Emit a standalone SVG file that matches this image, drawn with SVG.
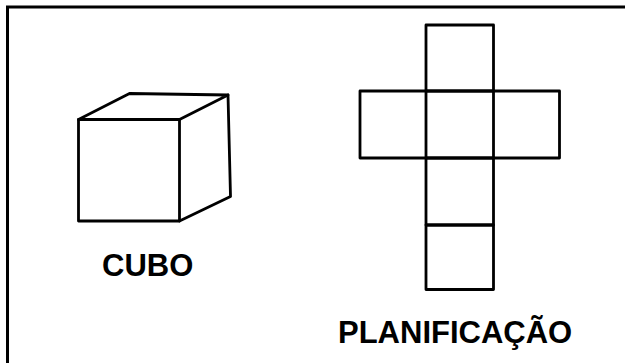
<svg xmlns="http://www.w3.org/2000/svg" width="625" height="363" viewBox="0 0 625 363">
<style>
.ln{fill:none;stroke:#000;stroke-width:2.8;stroke-linejoin:round;stroke-linecap:round}
.lbl{font-family:"Liberation Sans",Arial,sans-serif;font-weight:bold;font-size:31px;fill:#000}
</style>
<rect width="625" height="363" fill="#fff"/>
<path d="M7.5,363 V7 H625" fill="none" stroke="#000" stroke-width="3"/>
<g id="cube">
<polygon class="ln" points="78.5,119.5 179.5,119.5 179.5,221 78.5,221"/>
<polyline class="ln" points="78.5,119.5 129.5,93.5 228,95 179.5,119.5"/>
<polyline class="ln" points="228,95 230.5,196.5 179.5,221"/>
</g>
<g id="net">
<rect class="ln" x="426" y="25" width="67.5" height="66"/>
<rect class="ln" x="360" y="91" width="199.5" height="67"/>
<line class="ln" x1="426" y1="91" x2="426" y2="158"/>
<line class="ln" x1="493.5" y1="91" x2="493.5" y2="158"/>
<rect class="ln" x="426" y="158" width="67.5" height="67"/>
<rect class="ln" x="426" y="225" width="67.5" height="64.5"/>
</g>
<text class="lbl" x="102" y="275.5">CUBO</text>
<text class="lbl" x="338" y="342.5" font-size="30.5">PLANIFICAÇÃO</text>
</svg>
